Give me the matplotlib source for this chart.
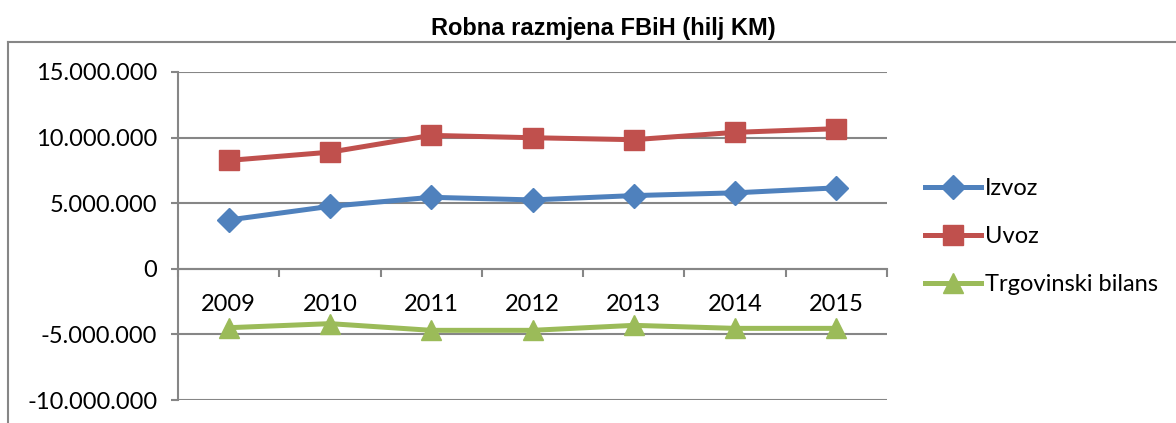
import matplotlib
matplotlib.use("Agg")
import matplotlib.pyplot as plt
from matplotlib.ticker import FuncFormatter, FixedLocator
from matplotlib.lines import Line2D

years = ["2009", "2010", "2011", "2012", "2013", "2014", "2015"]
izvoz = [3720000, 4760000, 5450000, 5250000, 5580000, 5790000, 6170000]
uvoz = [8260000, 8890000, 10170000, 9990000, 9840000, 10400000, 10680000]
bilans = [-4490000, -4180000, -4690000, -4690000, -4310000, -4540000, -4540000]
series_names = ["Izvoz", "Uvoz", "Trgovinski bilans"]
title = "Robna razmjena FBiH (hilj KM)"

W, H = 1176, 423
fig = plt.figure(figsize=(W / 100, H / 100), dpi=100)
fig.patch.set_facecolor("white")

# outer chart border (top and left visible)
fig.add_artist(Line2D([8 / W, 8 / W], [0, 1 - 42 / H], transform=fig.transFigure, color="#868686", lw=1.5))
fig.add_artist(Line2D([8 / W, 1], [1 - 42 / H, 1 - 42 / H], transform=fig.transFigure, color="#868686", lw=1.5))

ax = fig.add_axes([178 / W, (H - 400) / H, (887 - 178) / W, (400 - 72) / H])
x = list(range(len(years)))

blue, red, green = "#4F81BD", "#C0504D", "#9BBB59"
ax.plot(x, izvoz, color=blue, lw=3.6, marker="D", ms=12, label=series_names[0], zorder=3)
ax.plot(x, uvoz, color=red, lw=3.6, marker="s", ms=14, label=series_names[1], zorder=3)
ax.plot(x, bilans, color=green, lw=3.6, marker="^", ms=15, label=series_names[2], zorder=3)

ax.set_xlim(-0.5, len(years) - 0.5)
ax.set_ylim(-10000000, 15000000)
ax.set_yticks([-10000000, -5000000, 0, 5000000, 10000000, 15000000])
ax.yaxis.set_major_formatter(FuncFormatter(lambda v, p: f"{int(v):,}".replace(",", ".")))
ax.grid(axis="y", color="#868686", lw=1.5, zorder=0)

for s in ["top", "right"]:
    ax.spines[s].set_visible(False)
ax.spines["left"].set_color("#868686")
ax.spines["left"].set_linewidth(1.5)
ax.spines["bottom"].set_position(("data", 0))
ax.spines["bottom"].set_color("#868686")
ax.spines["bottom"].set_linewidth(1.5)

ax.xaxis.set_major_locator(FixedLocator([i - 0.5 for i in range(len(years) + 1)]))
ax.xaxis.set_minor_locator(FixedLocator(x))
ax.xaxis.set_major_formatter(FuncFormatter(lambda v, p: ""))
ax.xaxis.set_minor_formatter(FuncFormatter(lambda v, p: years[int(round(v))] if 0 <= round(v) < len(years) else ""))
ax.tick_params(axis="x", which="major", direction="out", length=6, width=1.5, color="#868686")
ax.tick_params(axis="x", which="minor", length=0, pad=18, labelsize=17)
ax.tick_params(axis="y", direction="out", length=5, width=1.5, color="#868686", labelsize=17, pad=10)
for lab in ax.get_xticklabels(minor=True) + ax.get_yticklabels():
    lab.set_fontfamily("Lato")

fig.text(603 / W, 1 - 28 / H, title, ha="center", va="center", fontsize=17, fontweight="bold",
         fontfamily="Liberation Sans")

leg = ax.legend(loc="upper left", bbox_to_anchor=(916 / W, 1 - 169 / H), bbox_transform=fig.transFigure,
                frameon=False, prop={"family": "Lato", "size": 17}, handlelength=2.37,
                handletextpad=0.15, labelspacing=1.14, borderaxespad=0)

fig.savefig("out.png", dpi=100)
